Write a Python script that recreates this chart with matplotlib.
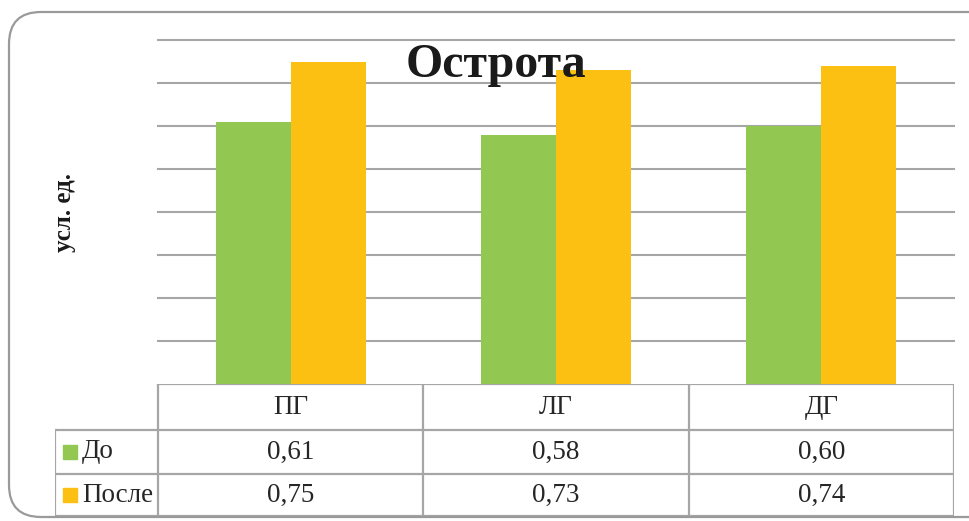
import matplotlib
matplotlib.use("Agg")
import matplotlib.pyplot as plt
import numpy as np
from matplotlib.patches import FancyBboxPatch

# data
categories = ["ПГ", "ЛГ", "ДГ"]
series_names = ["До", "После"]
before = [0.61, 0.58, 0.60]
after = [0.75, 0.73, 0.74]
colors = ["#92c851", "#fbc012"]

W, H = 970, 521
fig = plt.figure(figsize=(W / 100, H / 100), dpi=100)
plt.rcParams['font.family'] = ['Liberation Serif', 'DejaVu Serif']


def box(x0, y0, x1, y1):
    # pixel box (top-left origin) -> figure fraction rect
    return [x0 / W, 1 - y1 / H, (x1 - x0) / W, (y1 - y0) / H]


# rounded frame round the whole chart
frame = FancyBboxPatch((0.09, 0.04), 10.0, 5.05,
                       boxstyle="round,pad=0,rounding_size=0.32",
                       transform=fig.dpi_scale_trans, fill=False,
                       edgecolor="#9a9a9a", linewidth=1.6)
fig.patches.append(frame)

grid_col = "#a6a6a6"

# bars
ax = fig.add_axes(box(158, 40, 954, 384))
x = np.arange(len(categories))
bw = 0.283
ax.bar(x - bw / 2, before, bw, color=colors[0], zorder=2)
ax.bar(x + bw / 2, after, bw, color=colors[1], zorder=2)
ax.set_xlim(-0.5, 2.5)
ax.set_ylim(0, 0.8)
ax.set_yticks(np.arange(0.1, 0.81, 0.1))
ax.grid(axis="y", color=grid_col, linewidth=1.5, zorder=0)
ax.set_axisbelow(True)
for gl in ax.get_ygridlines():
    gl.set_clip_on(False)  # top line sits on the axes edge
ax.tick_params(left=False, bottom=False, labelleft=False, labelbottom=False)
ax.set_xticks([])
for s in ax.spines.values():
    s.set_visible(False)

# data table under the bars (y in pixels from the table top)
tax = fig.add_axes(box(55, 384, 954, 516))
col_w = (954 - 158) / 3
left = -0.5 - (158 - 55) / col_w
rows = [0, 46, 90, 132]
tax.set_xlim(left, 2.5)
tax.set_ylim(132, 0)
tax.axis("off")
lk = dict(color=grid_col, linewidth=1.6, solid_capstyle="projecting")
tax.plot([-0.5, 2.5], [0, 0], **lk)
for r in rows[1:]:
    tax.plot([left, 2.5], [r, r], **lk)
for c in [-0.5, 0.5, 1.5, 2.5]:
    tax.plot([c, c], [0, rows[-1]], **lk)
tax.plot([left, left], [rows[1], rows[-1]], **lk)
mid = [(rows[k] + rows[k + 1]) / 2 for k in range(3)]

txt_col = "#262626"
fs = 19.5
for i, cat in enumerate(categories):
    tax.text(i, mid[0], cat, ha="center", va="center", fontsize=fs, color=txt_col)
    for r, vals in enumerate([before, after]):
        tax.text(i, mid[r + 1], f"{vals[i]:.2f}".replace(".", ","),
                 ha="center", va="center", fontsize=fs, color=txt_col)

for r, name in enumerate(series_names):
    tax.plot(left + 15 / col_w, mid[r + 1], "s", color=colors[r], markersize=10)
    tax.text(left + 27 / col_w, mid[r + 1], name, ha="left", va="center",
             fontsize=fs, color=txt_col)

fig.text(496 / W, 1 - 77 / H, "Острота", ha="center", va="baseline",
         fontsize=34.5, fontweight="bold", color="#1a1a1a")
fig.text(65 / W, 1 - 212 / H, "усл. ед.", ha="center", va="center",
         rotation=90, fontsize=18, fontweight="bold", color="#1a1a1a")

fig.savefig("out.png", dpi=100)
